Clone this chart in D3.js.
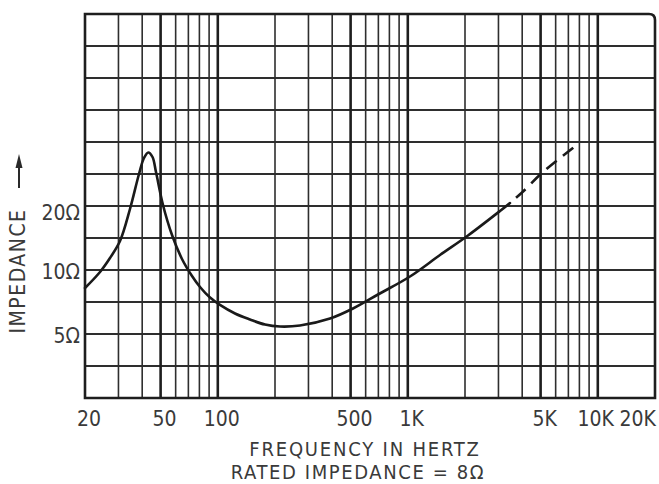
<!DOCTYPE html>
<html>
<head>
<meta charset="utf-8">
<script src="https://cdn.jsdelivr.net/npm/d3@7/dist/d3.min.js"></script>
<style>
  html, body { margin: 0; padding: 0; background: #fff; }
  svg { display: block; }
  text { font-family: "DejaVu Sans Condensed", "DejaVu Sans", sans-serif; font-stretch: condensed; fill: #3a3a3a; }
</style>
</head>
<body>
<svg id="chart" width="659" height="484"></svg>
<script>
// ---- data ----
const solidFreq = [20, 23.99, 27.07, 30.57, 34.5, 38.48, 40.88, 43.07, 45.32, 47.28, 51.47, 57.41, 64.79, 73.16, 80.6, 91, 102.7, 123.2, 147.7, 177.2, 212.5, 270.7, 389.6, 514.7, 696.9, 1027, 1477, 2074, 3057, 3450];
const solidOhm  = [8.23, 9.79, 11.39, 13.69, 19.36, 28.28, 33.63, 35.7, 34.0, 28.9, 20.22, 14.61, 11.27, 9.37, 8.32, 7.42, 6.85, 6.24, 5.85, 5.54, 5.42, 5.48, 5.91, 6.59, 7.67, 9.32, 11.76, 14.53, 18.95, 20.66];
const dashFreq  = [3450, 3991, 5147, 7867];
const dashOhm   = [20.66, 23.15, 28.9, 39.14];

const xTickValues = [20, 50, 100, 500, 1000, 5000, 10000, 20000];
const xTickLabels = ["20", "50", "100", "500", "1K", "5K", "10K", "20K"];
const yTickValues = [5, 10, 20];
const yTickLabels = ["5Ω", "10Ω", "20Ω"];
const minorFreqs = [30, 40, 60, 70, 80, 90, 200, 300, 400, 600, 700, 800, 900, 2000, 3000, 4000, 6000, 7000, 8000, 9000];
const majorFreqs = [50, 100, 500, 1000, 5000, 10000];
const halfOctaveSteps = d3.range(1, 12); // horizontal rules, every half octave above 2.5 Ω

// ---- layout ----
const L = 85, R = 655, T = 14, B = 398;
const svg = d3.select("#chart");
const x = d3.scaleLog().domain([20, 20000]).range([L, R]);
const y = d3.scaleLog().base(2).domain([2.5, 160]).range([B, T]);
const ink = "#2e2e2e";

// horizontal grid
svg.append("g").selectAll("line").data(halfOctaveSteps).join("line")
  .attr("x1", L).attr("x2", R)
  .attr("y1", k => y(2.5 * Math.pow(2, k / 2)))
  .attr("y2", k => y(2.5 * Math.pow(2, k / 2)))
  .attr("stroke", ink).attr("stroke-width", 1.8);

// vertical grid
svg.append("g").selectAll("line").data(minorFreqs).join("line")
  .attr("x1", d => x(d)).attr("x2", d => x(d))
  .attr("y1", T).attr("y2", B)
  .attr("stroke", ink).attr("stroke-width", 1.6);
svg.append("g").selectAll("line").data(majorFreqs).join("line")
  .attr("x1", d => x(d)).attr("x2", d => x(d))
  .attr("y1", T).attr("y2", B)
  .attr("stroke", "#1e1e1e").attr("stroke-width", 2.6);

// frame with rounded top-right corner
svg.append("path")
  .attr("d", `M${L},${B} V${T} H${R - 6} Q${R},${T} ${R},${T + 6} V${B} Z`)
  .attr("fill", "none").attr("stroke", "#1e1e1e").attr("stroke-width", 2.6);

// impedance curve
const line = d3.line().x(d => x(d[0])).y(d => y(d[1])).curve(d3.curveCatmullRom.alpha(0.5));
svg.append("path")
  .datum(solidFreq.map((f, i) => [f, solidOhm[i]]))
  .attr("d", line).attr("fill", "none")
  .attr("stroke", "#1a1a1a").attr("stroke-width", 2.6).attr("stroke-linecap", "round");
svg.append("path")
  .datum(dashFreq.map((f, i) => [f, dashOhm[i]]))
  .attr("d", line).attr("fill", "none")
  .attr("stroke", "#1a1a1a").attr("stroke-width", 2.6)
  .attr("stroke-dasharray", "13,8").attr("stroke-dashoffset", -8);

// x tick labels
svg.append("g").selectAll("text").data(xTickValues).join("text")
  .attr("x", (d, i) => i === xTickValues.length - 1 ? R + 1 : x(d) + (d === 10000 ? -2 : 4))
  .attr("y", 426)
  .attr("text-anchor", (d, i) => i === xTickValues.length - 1 ? "end" : "middle")
  .attr("font-size", 21)
  .text((d, i) => xTickLabels[i]);

// y tick labels
svg.append("g").selectAll("text").data(yTickValues).join("text")
  .attr("x", 80).attr("y", d => y(d) + (d === 20 ? 8 : 3))
  .attr("dominant-baseline", "middle")
  .attr("text-anchor", "end")
  .attr("font-size", 21)
  .text((d, i) => yTickLabels[i]);

// y axis title and arrow
svg.append("text")
  .attr("transform", "translate(25,271) rotate(-90)")
  .attr("text-anchor", "middle")
  .attr("font-size", 21).attr("letter-spacing", 1.5)
  .text("IMPEDANCE");
svg.append("line").attr("x1", 19).attr("x2", 19).attr("y1", 188).attr("y2", 162)
  .attr("stroke", "#2a2a2a").attr("stroke-width", 2);
svg.append("path").attr("d", "M19,154 L15.5,168 L22.5,168 Z").attr("fill", "#2a2a2a");

// x axis titles
svg.append("text").attr("x", 365).attr("y", 455.5).attr("text-anchor", "middle")
  .attr("font-size", 20).attr("letter-spacing", 1.8).text("FREQUENCY IN HERTZ");
svg.append("text").attr("x", 358).attr("y", 479).attr("text-anchor", "middle")
  .attr("font-size", 20).attr("letter-spacing", 1.6).text("RATED IMPEDANCE = 8Ω");
</script>
</body>
</html>
